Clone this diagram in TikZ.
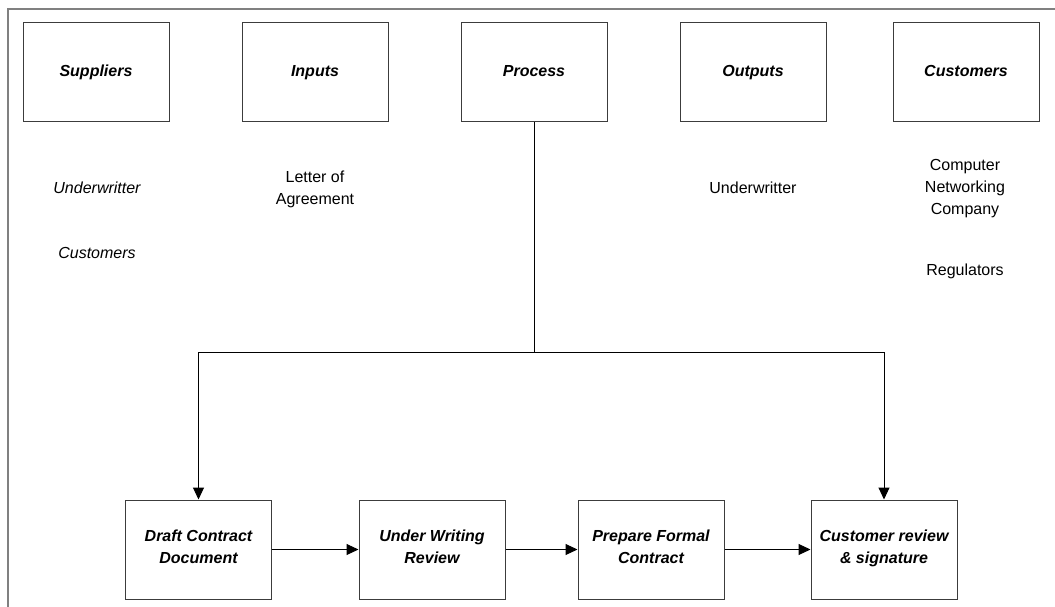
\documentclass[tikz,border=0pt]{standalone}
\usepackage{fontspec}
\setmainfont{Liberation Sans}
\usepackage{tikz}
\usetikzlibrary{arrows.meta,positioning,calc}
\definecolor{rahmen}{RGB}{128,128,128}
\definecolor{kasten}{RGB}{60,60,60}
\tikzset{
  stufe/.style={rectangle, draw=kasten, line width=1pt, minimum width=146pt, minimum height=99pt, inner sep=0pt, align=center, font=\fontsize{16}{22}\selectfont\bfseries\itshape, execute at begin node=\strut, execute at end node=\strut},
  eintrag/.style={align=center, inner sep=0pt, font=\fontsize{16}{22}\selectfont},
  eintragk/.style={eintrag, font=\fontsize{16}{22}\selectfont\itshape},
  fluss/.style={draw=black, line width=1pt},
  pfeil/.style={fluss, -{Triangle[length=12pt, width=11pt]}}
}

\begin{document}
\begin{tikzpicture}[x=1pt, y=1pt]
\useasboundingbox (0,0) rectangle (1055,-607);

% frame
\coordinate (ecke) at (8,-9);
\draw[rahmen, line width=1.5pt] (ecke |- 0,-607) -- (ecke) -- (1055,-9);

% SIPOC heads
\node[stufe] (suppliers) at (96,-72.5) {Suppliers};
\node[stufe] (inputs) at (315,-72.5) {Inputs};
\node[stufe] (process) at (534,-72.5) {Process};
\node[stufe] (outputs) at (753,-72.5) {Outputs};
\node[stufe] (customers) at (966,-72.5) {Customers};

% entries
\node[eintragk] (supA) at (97,-188) {Underwritter};
\node[eintragk] (supB) at (97,-253) {Customers};
\node[eintrag] (inpA) at (315,-189) {Letter of\\Agreement};
\node[eintrag] (outA) at (753,-188) {Underwritter};
\node[eintrag] (custA) at (965,-189) {Computer\\Networking\\Company};
\node[eintrag] (custB) at (965,-271) {Regulators};

% process steps
\node[stufe] (draft) at (198.5,-549.5) {Draft Contract\\Document};
\node[stufe] (review) at (432,-549.5) {Under Writing\\Review};
\node[stufe] (formal) at (651,-549.5) {Prepare Formal\\Contract};
\node[stufe] (sign) at (884,-549.5) {Customer review\\\& signature};

\coordinate (split) at ($(process.south)+(0,-229.5)$);
\draw[fluss] (process.south) -- (split);
\draw[pfeil] (split) -| (draft.north);
\draw[pfeil] (split) -| (sign.north);

\draw[pfeil] (draft.east) -- (review.west);
\draw[pfeil] (review.east) -- (formal.west);
\draw[pfeil] (formal.east) -- (sign.west);

\end{tikzpicture}
\end{document}
